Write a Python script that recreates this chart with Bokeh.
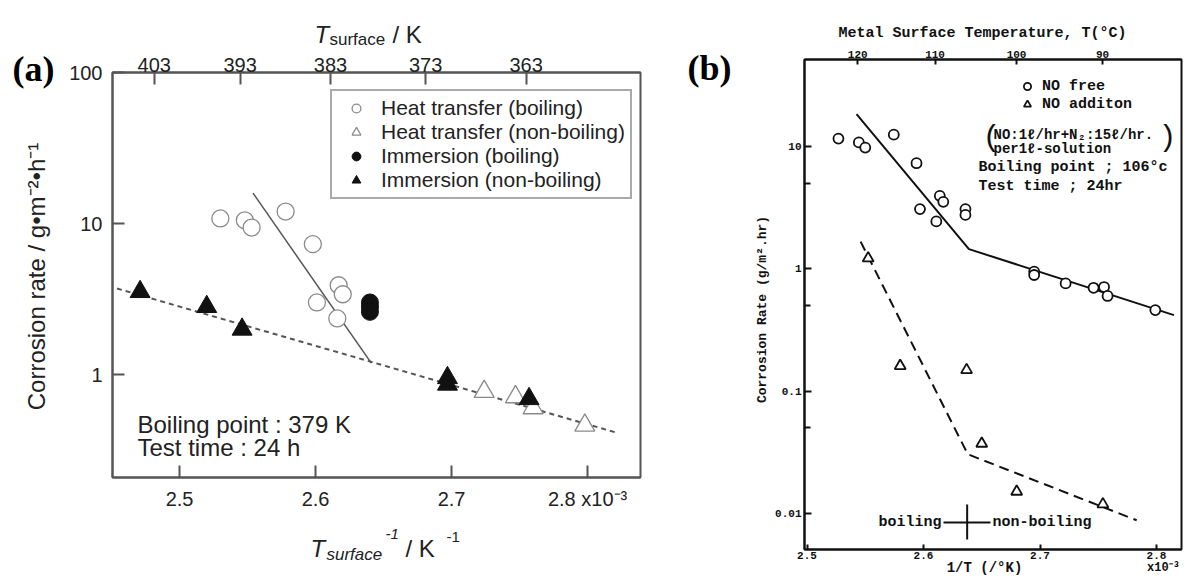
from math import log10, pi
from bokeh.plotting import figure
from bokeh.models import (Range1d, LinearAxis, FixedTicker, CustomJSTickFormatter,
                          Label, Legend, LegendItem)
from bokeh.embed import file_html
from bokeh.resources import INLINE

# ---------------- data: panel (a) ----------------
ht_boil_x = [2.530, 2.548, 2.553, 2.578, 2.598, 2.617, 2.620, 2.601, 2.616]
ht_boil_y = [10.8, 10.5, 9.4, 12.0, 7.3, 3.9, 3.4, 3.0, 2.35]
ht_nonboil_x = [2.724, 2.747, 2.760, 2.798]
ht_nonboil_y = [0.77, 0.71, 0.60, 0.46]
im_boil_x = [2.640, 2.640, 2.640]
im_boil_y = [3.0, 2.8, 2.6]
im_nonboil_x = [2.471, 2.520, 2.546, 2.697, 2.697, 2.757]
im_nonboil_y = [3.53, 2.81, 1.99, 0.95, 0.86, 0.69]
fit_boil_x = [2.554, 2.641]
fit_boil_y = [15.9, 1.19]
fit_nonboil_x = [2.454, 2.820]
fit_nonboil_y = [3.71, 0.415]
a_bottom_ticks = [2.5, 2.6, 2.7, 2.8]
a_bottom_labels = ["2.5", "2.6", "2.7", "2.8 x10\u207b\u00b3"]
a_top_temps_K = [403, 393, 383, 373, 363]
a_left_ticks = [1, 10, 100]
a_legend_labels = ["Heat transfer (boiling)", "Heat transfer (non-boiling)",
                   "Immersion (boiling)", "Immersion (non-boiling)"]

# ---------------- data: panel (b) ----------------
nofree_x = [2.527, 2.5445, 2.550, 2.5745, 2.594, 2.597, 2.611, 2.614, 2.617,
            2.636, 2.636, 2.695, 2.695, 2.722, 2.746, 2.755, 2.758, 2.799]
nofree_y = [11.6, 10.8, 9.8, 12.5, 7.3, 3.08, 2.44, 3.95, 3.53,
            3.08, 2.76, 0.95, 0.89, 0.76, 0.70, 0.71, 0.60, 0.46]
noadd_x = [2.5525, 2.580, 2.637, 2.650, 2.680, 2.754]
noadd_y = [1.22, 0.161, 0.149, 0.0373, 0.0151, 0.0119]
fit_nofree_x = [2.5425, 2.639, 2.815]
fit_nofree_y = [18.4, 1.45, 0.418]
fit_noadd_x = [2.546, 2.638, 2.783]
fit_noadd_y = [1.67, 0.0305, 0.0088]
b_bottom_ticks = [2.5, 2.6, 2.7, 2.8]
b_top_temps_C = [120, 110, 100, 90]
b_left_ticks = [0.01, 0.1, 1, 10]
b_left_minor = [0.05, 0.5, 5]
b_boiling_point_C = 106
b_legend_labels = ["NO free", "NO additon"]

# ---------------- geometry panel (a) ----------------
A_W, A_H = 680, 578
A_L, A_R, A_T, A_B = 112, 640, 72, 477
A_PX_PER_X = 1360.0
A_X0 = 2.4507
A_X1 = A_X0 + (A_R - A_L) / A_PX_PER_X
A_PX_PER_DEC = 151.0
A_Y1 = 100.0
A_Y0 = 10 ** (2 - (A_B - A_T) / A_PX_PER_DEC)

# ---------------- geometry panel (b) ----------------
B_OFF = 680
B_W, B_H = 508, 578
B_L, B_R, B_T, B_B = 804, 1181, 59, 549


def bx(px):
    return 2.6 + (px - 923) / 1165.0


def by(py):
    return 10 ** (1 - (py - 146) / 122.33)


B_X0, B_X1 = bx(B_L), bx(B_R)
B_Y0, B_Y1 = by(B_B), by(B_T)

SANS = "Liberation Sans"
MONO = "Liberation Mono"
SERIF = "Liberation Serif"
GREY = "#555555"


def style_axis(axis, color, width, font, size, style, tick_in, standoff, tcolor):
    axis.axis_line_color = color
    axis.axis_line_width = width
    axis.major_tick_line_color = color
    axis.major_tick_line_width = width
    axis.major_tick_in = tick_in
    axis.major_tick_out = 0
    axis.minor_tick_line_color = None
    axis.major_label_text_font = font
    axis.major_label_text_font_size = size
    axis.major_label_text_font_style = style
    axis.major_label_text_color = tcolor
    axis.major_label_standoff = standoff


# ======================= panel (a) =======================
pa = figure(width=A_W, height=A_H, x_range=Range1d(A_X0, A_X1),
            y_range=Range1d(A_Y0, A_Y1), y_axis_type="log",
            output_backend="svg", toolbar_location=None,
            min_border_left=A_L, min_border_right=A_W - A_R,
            min_border_top=A_T, min_border_bottom=A_H - A_B,
            styles={"position": "absolute", "left": "0px", "top": "0px"})
pa.grid.visible = False
pa.outline_line_color = GREY
pa.outline_line_width = 2
pa.border_fill_color = "white"

bottom_a = pa.below[0]
bottom_a.ticker = FixedTicker(ticks=a_bottom_ticks)
bottom_a.formatter = CustomJSTickFormatter(
    args=dict(tick_vals=a_bottom_ticks, tick_labels=a_bottom_labels),
    code="const i = tick_vals.findIndex(t => Math.abs(t - tick) < 1e-9); return i >= 0 ? tick_labels[i] : '';")
style_axis(bottom_a, GREY, 2, SANS, "20px", "normal", 12, 10, "#222")

left_a = pa.left[0]
left_a.ticker = FixedTicker(ticks=a_left_ticks)
left_a.formatter = CustomJSTickFormatter(code="return tick.toString();")
style_axis(left_a, GREY, 2, SANS, "20px", "normal", 12, 10, "#222")

top_a = LinearAxis(ticker=FixedTicker(ticks=[1000.0 / T for T in a_top_temps_K]),
                   formatter=CustomJSTickFormatter(code="return Math.round(1000/tick).toString();"))
style_axis(top_a, GREY, 2, SANS, "20px", "normal", 12, 1, "#222")
pa.add_layout(top_a, "above")

pa.line(fit_nonboil_x, fit_nonboil_y, line_color=GREY, line_width=2, line_dash="5 4")
pa.line(fit_boil_x, fit_boil_y, line_color=GREY, line_width=1.5)
r_a1 = pa.scatter(ht_boil_x, ht_boil_y, marker="circle", size=17, line_color="#8a8a8a",
                  fill_color="white", line_width=1.3)
r_a2 = pa.scatter(ht_nonboil_x, ht_nonboil_y, marker="triangle", size=20, line_color="#8a8a8a",
                  fill_color="white", line_width=1.3)
r_a3 = pa.scatter(im_boil_x, im_boil_y, marker="circle", size=17, line_color="#111",
                  fill_color="#111")
r_a4 = pa.scatter(im_nonboil_x, im_nonboil_y, marker="triangle", size=20, line_color="#111",
                  fill_color="#111")

leg_a = Legend(items=[LegendItem(label=lab, renderers=[r]) for lab, r in
                      zip(a_legend_labels, [r_a1, r_a2, r_a3, r_a4])],
               location=(330 - A_L, A_B - 199),
               label_text_font=SANS, label_text_font_size="21px", label_text_color="#222",
               glyph_width=38, glyph_height=22, label_height=22, label_standoff=6,
               spacing=0, padding=5, margin=0,
               border_line_color=GREY, border_line_width=2,
               background_fill_color="white", background_fill_alpha=1)
pa.add_layout(leg_a)

# ======================= panel (b) =======================
pb = figure(width=B_W, height=B_H, x_range=Range1d(B_X0, B_X1),
            y_range=Range1d(B_Y0, B_Y1), y_axis_type="log",
            output_backend="svg", toolbar_location=None,
            min_border_left=B_L - B_OFF, min_border_right=B_OFF + B_W - B_R,
            min_border_top=B_T, min_border_bottom=B_H - B_B,
            styles={"position": "absolute", "left": f"{B_OFF}px", "top": "0px"})
pb.grid.visible = False
pb.outline_line_color = "#111"
pb.outline_line_width = 2
pb.border_fill_color = "white"

bottom_b = pb.below[0]
bottom_b.ticker = FixedTicker(ticks=b_bottom_ticks)
bottom_b.formatter = CustomJSTickFormatter(code="return tick.toFixed(1);")
style_axis(bottom_b, "#111", 2, MONO, "11px", "bold", 5, 2, "#111")

left_b = pb.left[0]
left_b.ticker = FixedTicker(ticks=b_left_ticks, minor_ticks=b_left_minor)
left_b.formatter = CustomJSTickFormatter(code="return tick.toString();")
style_axis(left_b, "#111", 2, MONO, "11px", "bold", 7, 3, "#111")
left_b.minor_tick_line_color = "#111"
left_b.minor_tick_line_width = 2
left_b.minor_tick_in = 6
left_b.minor_tick_out = 0

top_b = LinearAxis(ticker=FixedTicker(ticks=[1000.0 / (T + 273.15) for T in b_top_temps_C]),
                   formatter=CustomJSTickFormatter(code="return Math.round(1000/tick - 273.15).toString();"))
style_axis(top_b, "#111", 2, MONO, "11px", "bold", 5, 2, "#111")
pb.add_layout(top_b, "above")

pb.line(fit_nofree_x, fit_nofree_y, line_color="#111", line_width=2)
pb.line(fit_noadd_x, fit_noadd_y, line_color="#111", line_width=2, line_dash="10 6")
r_b1 = pb.scatter(nofree_x, nofree_y, marker="circle", size=10, line_color="#111",
                  fill_color="white", line_width=1.8)
r_b2 = pb.scatter(noadd_x, noadd_y, marker="triangle", size=11, line_color="#111",
                  fill_color="white", line_width=1.8)

leg_b = Legend(items=[LegendItem(label=lab, renderers=[r]) for lab, r in
                      zip(b_legend_labels, [r_b1, r_b2])],
               location=(1017 - B_L, B_B - 113),
               label_text_font=MONO, label_text_font_style="bold",
               label_text_font_size="15px", label_text_color="#111",
               glyph_width=20, glyph_height=18, label_height=18, label_standoff=5,
               spacing=0, padding=0, margin=0,
               border_line_color=None, background_fill_alpha=0)
pb.add_layout(leg_b)

bp_x = 1000.0 / (b_boiling_point_C + 273.15)
pb.segment(x0=[bp_x], y0=[by(504)], x1=[bp_x], y1=[by(539)], line_color="#111", line_width=2)
pb.segment(x0=[bx(943)], y0=[by(522)], x1=[bx(990)], y1=[by(522)], line_color="#111", line_width=2)

# ======================= text overlay (page pixel coordinates) =======================
ov = figure(width=1188, height=578, x_range=Range1d(0, 1188), y_range=Range1d(578, 0),
            x_axis_type=None, y_axis_type=None, min_border=0,
            output_backend="svg", toolbar_location=None,
            styles={"position": "absolute", "left": "0px", "top": "0px"})
ov.grid.visible = False
ov.outline_line_color = None
ov.background_fill_alpha = 0
ov.border_fill_alpha = 0


def lab(text, px, py, size, style="normal", font=SANS, align="left",
        baseline="alphabetic", angle=0.0, color="#222"):
    ov.add_layout(Label(x=px, y=py, text=text, text_font=font,
                        text_font_size=f"{size}px", text_font_style=style,
                        text_align=align, text_baseline=baseline, angle=angle,
                        text_color=color))


# panel (a) texts
lab("(a)", 12, 68, 36, style="bold", font=SERIF, color="#000")
lab("Boiling point : 379 K", 137, 424, 24)
lab("Test time : 24 h", 137, 447, 24)
lab("Corrosion rate / g\u2022m\u207b\u00b2\u2022h\u207b\u00b9", 36, 276, 24,
    align="center", baseline="middle", angle=pi / 2)
lab("T", 314, 34, 24, style="italic")
lab("surface", 329, 39, 17)
lab("/ K", 392, 34, 24)
lab("T", 310, 548, 24, style="italic")
lab("surface", 326, 554, 17, style="italic")
lab("-1", 385, 533, 15, style="italic")
lab("/  K", 405, 548, 24)
lab("-1", 446, 536, 15)

# panel (b) texts
M = dict(font=MONO, style="bold", baseline="middle", color="#111")
lab("(b)", 687, 67, 36, style="bold", font=SERIF, color="#000")
lab("Metal Surface Temperature, T(\u00b0C)", 982, 33, 15, align="center", **M)
lab("1/T (/\u00b0K)", 984, 567, 14, align="center", **M)
lab("x10\u207b\u00b3", 1163, 567, 12, align="center", **M)
lab("Corrosion Rate (g/m\u00b2.hr)", 762, 309, 13, align="center", angle=pi / 2, **M)
lab("(", 982, 137, 30, font=MONO, baseline="middle", color="#111")
lab(")", 1167, 137, 30, font=MONO, baseline="middle", color="#111", align="center")
lab("NO:1\u2113/hr+N\u2082:15\u2113/hr.", 993, 134, 14, **M)
lab("per1\u2113-solution", 993, 148, 14, **M)
lab("Boiling point ; 106\u00b0c", 978, 167, 15, **M)
lab("Test time ; 24hr", 978, 186, 15, **M)
lab("boiling", 878, 522, 15, **M)
lab("non-boiling", 992, 522, 15, **M)

open("out.html", "w").write(file_html([pa, pb, ov], INLINE))
